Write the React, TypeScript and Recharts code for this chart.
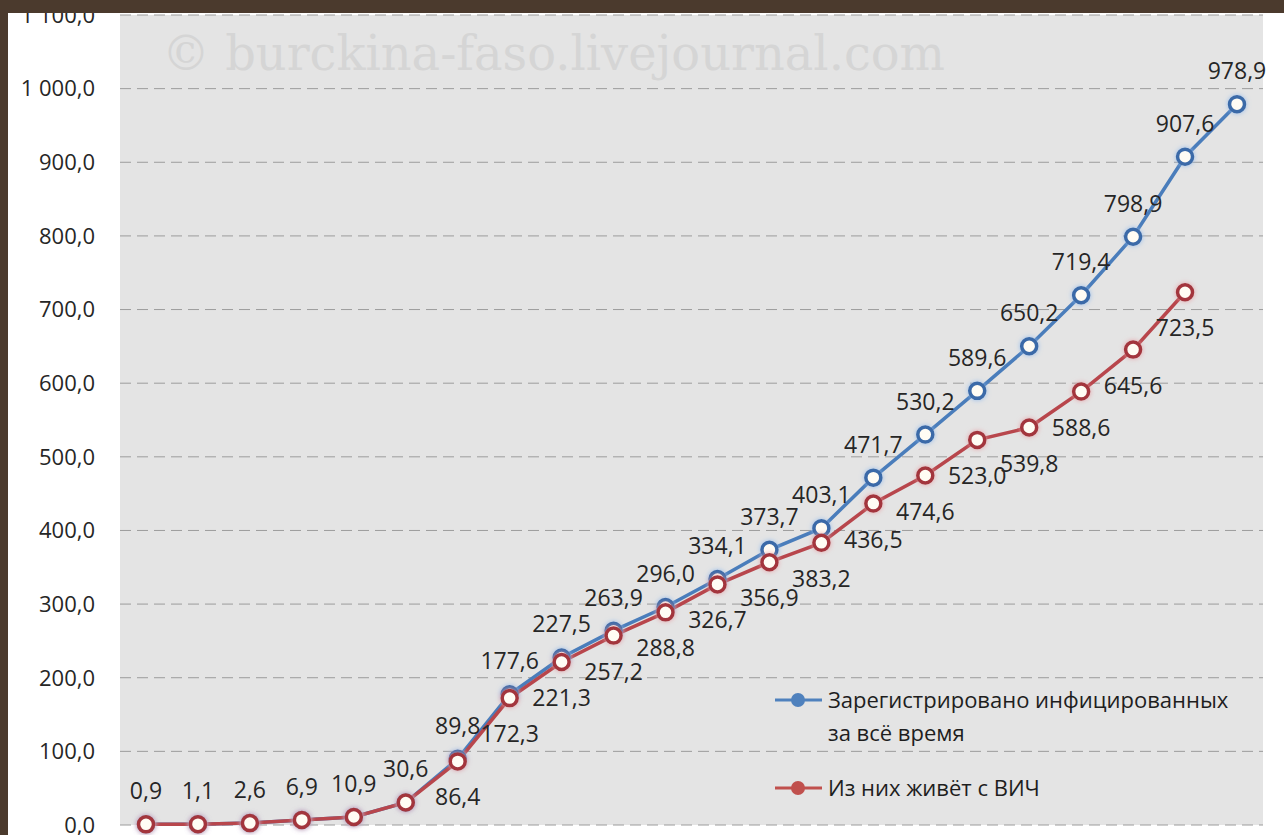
import { LineChart, Line, XAxis, YAxis, CartesianGrid, LabelList, Legend } from 'recharts';

// years are cut off in the picture, kept only as category keys
const YEARS = [
  '1994', '1995', '1996', '1997', '1998', '1999', '2000', '2001', '2002', '2003', '2004',
  '2005', '2006', '2007', '2008', '2009', '2010', '2011', '2012', '2013', '2014', '2015',
];

// thousand people
const TOTAL = [
  0.9, 1.1, 2.6, 6.9, 10.9, 30.6, 89.8, 177.6, 227.5, 263.9, 296.0,
  334.1, 373.7, 403.1, 471.7, 530.2, 589.6, 650.2, 719.4, 798.9, 907.6, 978.9,
];

const LIVING = [
  0.9, 1.1, 2.6, 6.9, 10.9, 30.6, 86.4, 172.3, 221.3, 257.2, 288.8,
  326.7, 356.9, 383.2, 436.5, 474.6, 523.0, 539.8, 588.6, 645.6, 723.5, null,
];

const Y_TICKS = [0, 100, 200, 300, 400, 500, 600, 700, 800, 900, 1000, 1100];

const LEGEND_TOTAL = ['Зарегистрировано инфицированных', 'за всё время'];
const LEGEND_LIVING = ['Из них живёт с ВИЧ'];

const WATERMARK = '© burckina-faso.livejournal.com';

const FONT = '"Open Sans", sans-serif';
const BLUE = '#4a7dbb';
const BLUE_DARK = '#3b6aa8';
const RED = '#b8464c';
const RED_DARK = '#a3363d';

const data = YEARS.map((year, i) => ({
  year,
  total: TOTAL[i],
  living: LIVING[i],
}));

// boundaries between categories, for the tick marks under the axis
const BOUNDS = Array.from({ length: YEARS.length + 1 }, (_, i) => i);

function fmt(v: number) {
  const [int, dec] = v.toFixed(1).split('.');
  const withSpaces = int.replace(/\B(?=(\d{3})+(?!\d))/g, ' ');
  return `${withSpaces},${dec}`;
}

function makeLabel(place: 'top' | 'bottom', skip: number) {
  return (props: any) => {
    const { index, value } = props;
    if (value == null || (typeof index === 'number' && index < skip)) return null;
    const vb = props.viewBox || {};
    const x = vb.x ?? props.x;
    const y = vb.y ?? props.y;
    if (x == null || y == null) return null;
    return (
      <text
        x={x}
        y={place === 'top' ? y - 25 : y + 44}
        textAnchor="middle"
        fontFamily={FONT}
        fontSize={23}
        fill="#262626"
      >
        {fmt(value)}
      </text>
    );
  };
}

function makeDot(stroke: string, glow: string) {
  return (p: any) => {
    if (p.cx == null || p.cy == null || p.value == null) return <g key={p.index} />;
    return (
      <circle
        key={p.index}
        cx={p.cx}
        cy={p.cy}
        r={7.5}
        fill="#fffcf4"
        stroke={stroke}
        strokeWidth={3.5}
        filter={`url(#${glow})`}
      />
    );
  };
}

function LegendBox() {
  const row = (y: number, color: string, lines: string[]) => (
    <g>
      <line x1={5} x2={52} y1={y} y2={y} stroke={color} strokeWidth={3} />
      <circle cx={28} cy={y} r={7} fill={color} />
      {lines.map((t, i) => (
        <text key={t} x={58} y={y + 8 + i * 33} fontFamily={FONT} fontSize={22} fill="#1e1e1e">
          {t}
        </text>
      ))}
    </g>
  );
  return (
    <svg width={500} height={130}>
      {row(20, '#4f81bd', LEGEND_TOTAL)}
      {row(108, '#c0504d', LEGEND_LIVING)}
    </svg>
  );
}

export default function App() {
  return (
    <div
      style={{
        position: 'absolute',
        left: 0,
        top: 0,
        width: 1284,
        height: 835,
        overflow: 'hidden',
        background: '#ffffff',
      }}
    >
      <svg width={0} height={0} style={{ position: 'absolute' }}>
        <defs>
          <filter id="glowBlue" x="-60%" y="-60%" width="220%" height="220%">
            <feDropShadow dx="0" dy="0" stdDeviation="2.4" floodColor="#8db8ec" floodOpacity="0.9" />
          </filter>
          <filter id="glowRed" x="-60%" y="-60%" width="220%" height="220%">
            <feDropShadow dx="0" dy="0" stdDeviation="2.4" floodColor="#e79aa0" floodOpacity="0.9" />
          </filter>
        </defs>
      </svg>

      {/* plot background */}
      <div style={{ position: 'absolute', left: 120, top: 15, width: 1143, height: 810, background: '#e4e4e4' }} />

      {/* watermark */}
      <svg width={1284} height={120} style={{ position: 'absolute', left: 0, top: 0 }}>
        <text
          x={162}
          y={70}
          fontFamily='"DejaVu Serif", serif'
          fontSize={48}
          fill="#d5d5d5"
          textLength={783}
          lengthAdjust="spacingAndGlyphs"
        >
          {WATERMARK}
        </text>
      </svg>

      <div style={{ position: 'absolute', left: 0, top: 0 }}>
        <LineChart width={1284} height={855} data={data} margin={{ top: 15, right: 21, left: 0, bottom: 0 }}>
          <CartesianGrid vertical={false} stroke="#9c9c9c" strokeDasharray="11 6" />
          <XAxis dataKey="year" hide padding={{ left: 26, right: 26 }} />
          <XAxis
            xAxisId="bounds"
            type="number"
            domain={[0, YEARS.length]}
            ticks={BOUNDS}
            tick={false}
            tickSize={7}
            height={30}
            axisLine={{ stroke: '#868686', strokeWidth: 2 }}
            tickLine={{ stroke: '#868686', strokeWidth: 2 }}
          />
          <YAxis
            width={120}
            domain={[0, 1100]}
            ticks={Y_TICKS}
            interval={0}
            axisLine={false}
            tickLine={false}
            tickSize={0}
            tickMargin={25}
            tickFormatter={fmt}
            tick={{ fill: '#262626', fontSize: 22, fontFamily: FONT }}
          />
          <Line
            dataKey="total"
            stroke={BLUE}
            strokeWidth={3.5}
            dot={makeDot(BLUE_DARK, 'glowBlue')}
            activeDot={false}
            isAnimationActive={false}
          >
            <LabelList dataKey="total" content={makeLabel('top', 0)} />
          </Line>
          <Line
            dataKey="living"
            stroke={RED}
            strokeWidth={3.5}
            dot={makeDot(RED_DARK, 'glowRed')}
            activeDot={false}
            isAnimationActive={false}
          >
            <LabelList dataKey="living" content={makeLabel('bottom', 6)} />
          </Line>
          <Legend
            layout="horizontal"
            verticalAlign="middle"
            align="center"
            wrapperStyle={{ left: 770, top: 680, width: 500, height: 130 }}
            content={() => <LegendBox />}
          />
        </LineChart>
      </div>

      {/* dark frame of the original screenshot */}
      <div style={{ position: 'absolute', left: 0, top: 0, width: 1284, height: 13, background: '#4b3a2d' }} />
      <div style={{ position: 'absolute', left: 0, top: 0, width: 8, height: 835, background: '#4b3a2d' }} />
    </div>
  );
}
